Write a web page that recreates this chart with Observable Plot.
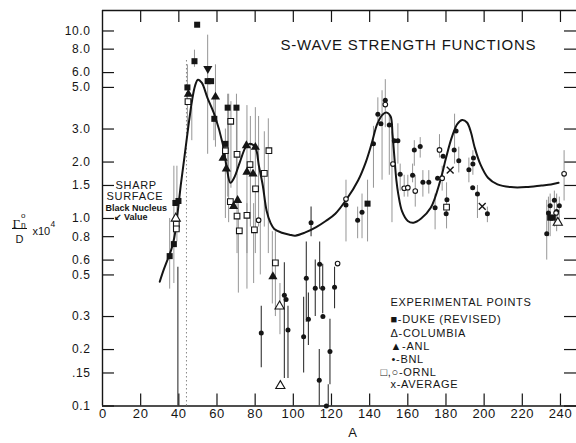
<!DOCTYPE html>
<html><head><meta charset="utf-8">
<script src="https://cdn.jsdelivr.net/npm/d3@7"></script>
<script src="https://cdn.jsdelivr.net/npm/@observablehq/plot@0.6"></script>
<style>body{margin:0;background:#fff} svg{display:block}</style>
</head><body><div id="chart"></div>
<script>
const xDomain = [0, 248.4];
const yDomain = [0.1, 12.86];
const xTicks = [0,20,40,60,80,100,120,140,160,180,200,220,240];
const yTicks = [0.1,0.15,0.2,0.3,0.5,0.6,0.8,1,1.5,2,3,5,6,8,10];
const yTickLabels = ["0.1",".15","0.2","0.3","0.5","0.6","0.8","1.0","1.5","2.0","3.0","5.0","6.0","8.0","10.0"];

const title = "S-WAVE STRENGTH FUNCTIONS";
const xLabel = "A";
const legendLines = ["EXPERIMENTAL POINTS","■-DUKE (REVISED)","Δ-COLUMBIA","▲-ANL","•-BNL","□,○-ORNL","x-AVERAGE"];
const noteLines = ["SHARP","SURFACE","Black Nucleus","↙ Value"];

// theoretical strength-function curve
const curveA = [30,32,34,36,37.5,38.5,39.5,41,43,45,47,48.5,50,52,55,59,63,65,67,69,72,75,77,80,82,84,86,88,90,94,98,101,106,112,117,122,128,134,138,141,144,147,149,151,152,153,154,155,157,160,163,167,172,177,180,183,186,188.5,191,193,195,198,202,207,214,222,230,235,239];
const curveV = [0.46,0.53,0.6,0.68,0.78,0.9,1.1,1.5,2.15,3.1,4.3,5.1,5.5,5.3,4.4,3.5,2.5,1.9,1.55,1.65,2.0,2.4,2.5,2.4,1.9,1.5,1.1,0.95,0.88,0.84,0.82,0.81,0.84,0.9,0.97,1.06,1.27,1.6,2.0,2.5,3.2,3.6,3.67,3.5,2.8,2.1,1.6,1.35,1.09,0.97,0.95,1.0,1.14,1.59,2.1,2.7,3.2,3.35,3.25,2.9,2.4,1.95,1.65,1.52,1.47,1.47,1.5,1.52,1.55];

// experimental points [A, value]
const duke = [[35.2,0.63],[37.4,0.73],[38.2,1.21],[39.8,1.24],[44.5,5.0],[48.2,6.9],[49.6,10.8],[55.1,5.4],[56.9,5.4],[58.6,3.4],[64.4,2.5],[65.6,3.9],[70.2,3.9],[138.9,1.2],[234.6,1.01],[236,1.01]];
const columbia = [[38.4,1.0],[92.8,0.34],[93.2,0.128],[238.6,0.95]];
const anl = [[45,4.6],[59.2,4.45],[63.2,2.1],[64.9,1.84],[68.7,1.16],[70.8,1.25],[75.4,2.45],[80.1,2.4],[75.7,1.77],[78.9,1.73],[89.3,0.49]];
const anlInverted = [[55.2,6.3]];
const bnl = [[83.2,0.245],[95.3,0.39],[96.2,0.37],[97.2,0.254],[105.4,0.234],[106.8,0.48],[107.9,0.29],[109.3,0.95],[111.5,0.425],[113.8,0.57],[115.4,0.425],[115.5,0.30],[113.6,0.137],[117.3,0.1],[119.2,0.195],[121.6,0.43],[127.6,1.18],[133.7,0.98],[136,1.08],[142,2.5],[144.3,3.6],[145.9,3.2],[148.2,4.27],[150.3,3.15],[152.9,2.6],[154.8,2.6],[156,1.72],[162.5,1.7],[163.4,2.32],[166.5,2.42],[167.9,1.56],[171,1.56],[174.3,1.14],[175.6,1.64],[178.5,2.15],[180.5,1.26],[180.1,1.06],[184.3,2.32],[185.3,2.93],[186.7,2.03],[192,1.82],[194.1,1.95],[194.4,2.1],[194,1.46],[196.5,1.35],[201.7,1.06],[232.8,0.83],[233.7,1.07],[234.6,1.17],[236.8,1.25],[238,1.09],[239.4,1.17]];
const ornlSquares = [[44.8,4.2],[38.7,0.93],[38.7,0.88],[64.4,2.3],[67.2,3.3],[70.5,2.2],[77.3,1.94],[84.8,1.74],[87.2,2.3],[80.2,1.44],[67,1.23],[70.5,1.03],[75.7,1.04],[71.7,0.86],[79.6,0.87],[90.6,0.58],[180.3,1.15]];
const ornlCircles = [[81.8,0.98],[123.2,0.575],[127.6,1.27],[148.2,4.05],[152.2,1.95],[158.1,1.45],[160,1.46],[163.9,1.4],[176.6,2.32],[178,1.64],[237.7,1.07],[241.9,1.73]];
const average = [[182.2,1.81],[199,1.16]];

// error bars [A, low, high]
const errLight = [[35.2,0.42,1.0],[37.4,0.45,1.9],[39.0,0.75,1.9],[44.5,2.8,6.6],[46.8,2.6,3.9],[48.2,6.4,7.9],[55.1,2.2,9.5],[59.2,2.4,6.6],[58.4,2.6,4.5],[64.4,1.0,3.0],[65.6,1.3,4.6],[67.3,1.45,4.2],[70.2,1.7,4.6],[66.1,0.95,4.6],[70.5,0.65,4.0],[75.7,0.65,4.0],[77.5,0.9,3.5],[80.1,0.65,3.9],[81.8,0.9,3.5],[84.8,0.9,2.9],[86.9,0.65,3.4],[71.2,0.4,1.2],[75.7,0.42,1.2],[79.2,0.45,1.2],[82.7,0.5,1.0],[89,0.35,0.85],[90.6,0.3,0.85],[93,0.24,0.45],[127.6,0.75,1.6],[133.7,0.78,1.15],[136,0.78,1.35],[138.9,0.75,1.6],[142,1.45,3.1],[144.3,3.3,4.4],[146.5,1.6,4.8],[148.2,3.05,5.5],[150.3,1.7,3.6],[151.7,0.95,2.9],[154.8,1.95,3.2],[156,1.4,1.95],[158.1,1.3,1.7],[160,1.3,1.7],[162.5,1.55,1.95],[163.4,1.9,2.6],[163.9,1.15,1.7],[166.5,2.1,2.7],[167.9,1.3,1.8],[171,1.35,1.8],[174.3,0.87,1.35],[176.6,2.1,2.8],[178,1.4,1.9],[180.3,0.88,1.55],[184.5,1.95,3.6],[186.7,1.75,2.4],[192,1.55,2.1],[194.1,1.7,2.3],[196.5,1.0,1.5],[201.7,0.95,1.15],[232.8,0.6,1.25],[233.7,0.8,1.3],[234.6,0.8,1.35],[236.8,0.9,1.4],[238,0.85,1.35],[239.4,0.95,1.3],[241.9,1.24,2.3]];
const errDotted = [[44,0.1,7.0]];
const errDark = [[39.5,0.1,0.55],[83.2,0.16,0.34],[95.3,0.14,0.58],[97.2,0.14,0.34],[105.4,0.15,0.38],[106.8,0.28,0.75],[107.9,0.21,0.4],[109.3,0.8,1.15],[111.5,0.3,0.6],[113.8,0.42,0.75],[115.4,0.31,0.57],[113.6,0.1,0.2],[118.3,0.1,0.13],[119.2,0.13,0.29],[121.6,0.33,0.55]];

const curve = curveA.map((a, i) => ({a, v: curveV[i]}));
const ink = "#151515";
const F = "Liberation Sans, Arial, sans-serif";
const frameW = 576 - 102, frameH = 443 - 10 - 37.5, tickLen = 12;
const tl = (txt, dx, dy, o = {}) => Plot.text([txt], {text: d => d, frameAnchor: "top-left", dx, dy, textAnchor: "start", lineAnchor: "middle", fill: ink, fontFamily: F, fontSize: 11, ...o});

const chart = Plot.plot({
  width: 576, height: 443,
  marginLeft: 102, marginTop: 10, marginRight: 0, marginBottom: 37.5,
  x: {domain: xDomain},
  y: {type: "log", domain: yDomain, axis: null},
  style: {fontFamily: F, color: ink, background: "#fff", overflow: "visible"},
  marks: [
    Plot.ruleX([xDomain[0]], {stroke: ink, strokeWidth: 1.4}),
    Plot.ruleY([yDomain[0]], {stroke: ink, strokeWidth: 1.4}),
    Plot.ruleY([yDomain[1]], {stroke: ink, strokeWidth: 1.4}),
    // inward ticks on all four sides
    Plot.tickY(yTicks, {y: d => d, insetRight: frameW - tickLen, stroke: ink, strokeWidth: 1.2}),
    Plot.tickY(yTicks, {y: d => d, insetLeft: frameW - tickLen, stroke: ink, strokeWidth: 1.2}),
    Plot.tickX(xTicks.slice(1), {x: d => d, insetBottom: frameH - tickLen, stroke: ink, strokeWidth: 1.2}),
    Plot.tickX(xTicks.slice(1), {x: d => d, insetTop: frameH - tickLen, stroke: ink, strokeWidth: 1.2}),
    // tick labels
    Plot.text(yTicks, {y: d => d, text: (d, i) => yTickLabels[i], frameAnchor: "left", dx: -12, textAnchor: "end", lineAnchor: "middle", fontSize: 12, fill: ink}),
    Plot.axisX({ticks: xTicks, tickSize: 0, tickPadding: 3, label: null, fontSize: 13}),
    Plot.ruleX(errLight, {x: d => d[0], y1: d => d[1], y2: d => d[2], stroke: "#8a8a8a", strokeWidth: 0.9}),
    Plot.ruleX(errDotted, {x: d => d[0], y1: d => d[1], y2: d => d[2], stroke: "#888", strokeWidth: 1, strokeDasharray: "1.5,2.5"}),
    Plot.ruleX(errDark, {x: d => d[0], y1: d => d[1], y2: d => d[2], stroke: "#333", strokeWidth: 1.1}),
    Plot.line(curve, {x: "a", y: "v", curve: "catmull-rom", stroke: ink, strokeWidth: 2}),
    Plot.dot(bnl, {x: d => d[0], y: d => d[1], r: 2.5, fill: ink}),
    Plot.dot(ornlCircles, {x: d => d[0], y: d => d[1], r: 2.3, fill: "#fff", stroke: ink, strokeWidth: 1.1}),
    Plot.dot(ornlSquares, {x: d => d[0], y: d => d[1], symbol: "square", r: 3.2, fill: "#fff", stroke: ink, strokeWidth: 1.1}),
    Plot.dot(duke, {x: d => d[0], y: d => d[1], symbol: "square", r: 3.4, fill: ink}),
    Plot.dot(anl, {x: d => d[0], y: d => d[1], symbol: "triangle", r: 3.4, fill: ink}),
    Plot.dot(anlInverted, {x: d => d[0], y: d => d[1], symbol: "triangle", r: 3.4, fill: ink, rotate: 180}),
    Plot.dot(columbia, {x: d => d[0], y: d => d[1], symbol: "triangle", r: 3.4, fill: "#fff", stroke: ink, strokeWidth: 1.1}),
    Plot.dot(average, {x: d => d[0], y: d => d[1], symbol: "times", r: 3.2, stroke: ink, strokeWidth: 1.4}),
    // title
    tl(title, 178, 34.5, {fontSize: 15}),
    // axis label
    Plot.text([xLabel], {text: d => d, frameAnchor: "bottom-left", dx: 250, dy: 27, textAnchor: "middle", lineAnchor: "middle", fontSize: 13, fill: ink}),
    // y label pieces
    tl("Γ", -90, 217, {fontSize: 13, lineAnchor: "bottom", fontFamily: "Liberation Serif, serif"}),
    tl("n", -81.5, 217, {fontSize: 8.5, lineAnchor: "bottom"}),
    tl("o", -81.5, 207.5, {fontSize: 8, lineAnchor: "bottom"}),
    tl("D", -87, 228.5, {fontSize: 11}),
    tl("x10", -70, 224, {fontSize: 11, lineAnchor: "bottom"}),
    tl("4", -52, 216.5, {fontSize: 8.5, lineAnchor: "bottom"}),
    // sharp surface note
    tl(noteLines[0], 13, 175, {fontSize: 11}),
    tl(noteLines[1], 4, 185.5, {fontSize: 11}),
    tl(noteLines[2], 3, 197.5, {fontSize: 9, fontWeight: "bold"}),
    tl(noteLines[3], 11, 207, {fontSize: 9, fontWeight: "bold"}),
    // legend
    tl(legendLines[0], 288, 291.7, {fontSize: 11}),
    tl(legendLines[1], 288, 309, {fontSize: 11}),
    tl(legendLines[2], 288, 323, {fontSize: 11}),
    tl(legendLines[3], 288, 336, {fontSize: 11}),
    tl(legendLines[4], 289, 349, {fontSize: 11}),
    tl(legendLines[5], 278, 361.5, {fontSize: 11}),
    tl(legendLines[6], 288, 374, {fontSize: 11})
  ]
});

const svg = d3.select(chart);
svg.selectAll("text").each(function() {
  const t = this.textContent;
  if (t === title) this.setAttribute("letter-spacing", "0.8px");
  else if (legendLines.includes(t) || t === "SHARP" || t === "SURFACE") this.setAttribute("letter-spacing", "0.7px");
  else if (yTickLabels.includes(t) || /^[0-9]+$/.test(t) && t.length > 1) this.setAttribute("letter-spacing", "0.6px");
});
// fraction bar of the y label
svg.append("line").attr("x1", 12).attr("x2", 27).attr("y1", 228.5).attr("y2", 228.5).attr("stroke", ink).attr("stroke-width", 1);
document.getElementById("chart").append(chart);
</script>
</body></html>
